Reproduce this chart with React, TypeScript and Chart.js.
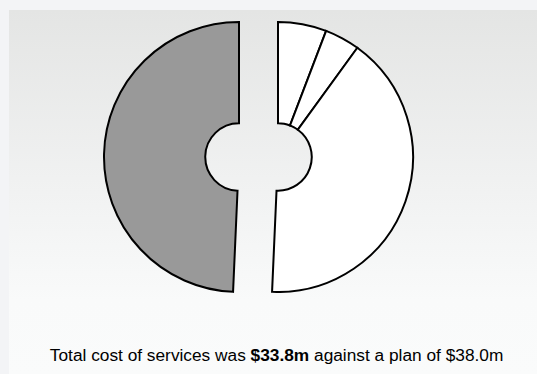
import React, { useEffect, useRef } from "react";
import { Chart, registerables } from "chart.js";

Chart.register(...registerables);

// Slices, clockwise from 12 o'clock
const sliceLabels = ["Service A", "Service B", "Service C", "Remaining"];
const sliceValues = [5.8, 4.2, 40.7, 49.3];
const sliceColors = ["#ffffff", "#ffffff", "#ffffff", "#999999"];

const totalCost = "$33.8m";
const planCost = "$38.0m";

const EXPLODE = 19.5;

const splitPlugin = {
  id: "splitHalves",
  afterDatasetsUpdate(chart: any) {
    const meta = chart.getDatasetMeta(0);
    meta.data.forEach((arc: any) => {
      const mid = (arc.startAngle + arc.endAngle) / 2;
      const dir = Math.cos(mid) >= 0 ? 1 : -1;
      arc.x += dir * EXPLODE;
    });
  },
};

export default function App() {
  const ref = useRef<HTMLCanvasElement | null>(null);

  useEffect(() => {
    if (!ref.current) return;
    const chart = new Chart(ref.current, {
      type: "doughnut",
      data: {
        labels: sliceLabels,
        datasets: [
          {
            data: sliceValues,
            backgroundColor: sliceColors,
            borderColor: "#000000",
            borderWidth: 2,
            borderJoinStyle: "miter",
            hoverOffset: 0,
          } as any,
        ],
      },
      options: {
        responsive: false,
        animation: false,
        events: [],
        cutout: "25%",
        layout: { padding: 0 },
        plugins: {
          legend: { display: false },
          tooltip: { enabled: false },
          title: { display: false },
        },
      },
      plugins: [splitPlugin],
    });
    return () => chart.destroy();
  }, []);

  return (
    <div
      style={{
        position: "fixed",
        left: 0,
        top: 0,
        width: 537,
        height: 374,
        background: "#f3f4f6",
        overflow: "hidden",
        fontFamily: "Arial, 'Liberation Sans', sans-serif",
      }}
    >
      <div
        style={{
          position: "absolute",
          left: 9,
          top: 10,
          width: 528,
          height: 364,
          background: "linear-gradient(to bottom, #e4e5e4 0%, #f1f2f2 50%, #f9fafa 80%, #fafbfb 100%)",
        }}
      />
      <canvas
        ref={ref}
        width={517}
        height={272}
        style={{ position: "absolute", left: 0, top: 21, width: 517, height: 272 }}
      />
      <div
        style={{
          position: "absolute",
          left: 16.6,
          width: 520,
          top: 345,
          fontSize: 17.3,
          lineHeight: "20px",
          textAlign: "center",
          color: "#000",
          whiteSpace: "nowrap",
        }}
      >
        Total cost of services was <b>{totalCost}</b> against a plan of {planCost}
      </div>
    </div>
  );
}
